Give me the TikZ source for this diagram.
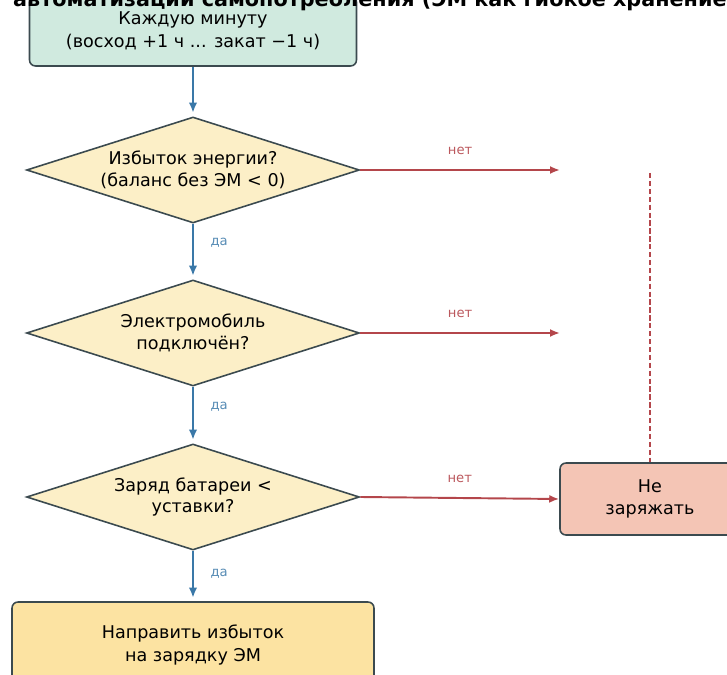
\documentclass[tikz,border=0pt]{standalone}
\usepackage{fontspec}
\setmainfont{DejaVu Sans}
\usetikzlibrary{shapes.geometric,arrows.meta}

\definecolor{startfill}{HTML}{D0EADF}
\definecolor{askfill}{HTML}{FCEFC7}
\definecolor{actfill}{HTML}{FCE3A2}
\definecolor{stopfill}{HTML}{F4C5B5}
\definecolor{edgegray}{HTML}{3B4A4F}
\definecolor{yesblue}{HTML}{3A78A8}
\definecolor{nored}{HTML}{B4464B}

\begin{document}
\begin{tikzpicture}[x=0.02cm, y=-0.02cm,
		box/.style={rectangle, rounded corners=3.4pt, draw=edgegray, line width=0.9pt,
			align=center, font=\fontsize{10}{13}\selectfont},
		ask/.style={diamond, draw=edgegray, fill=askfill, line width=0.9pt, aspect=3.14,
			minimum width=6.66cm, minimum height=2.12cm, inner sep=0pt,
			align=center, font=\fontsize{10}{12.5}\selectfont},
		yes/.style={-{Latex[length=0.2cm,width=0.17cm]}, draw=yesblue, line width=1.4pt, shorten >=2pt},
		no/.style={-{Latex[length=0.2cm,width=0.16cm]}, draw=nored, line width=1.1pt},
		yeslbl/.style={font=\fontsize{7.5}{9}\selectfont, text=yesblue!85},
		nolbl/.style={font=\fontsize{7.5}{9}\selectfont, text=nored!90}]
		\useasboundingbox (0,0) rectangle (727,675);

		% main column of the flow
		\node [box, fill=startfill, minimum width=6.54cm, minimum height=1.4cm] (tick) at (193,31)
			{Каждую минуту\\(восход +1 ч ... закат −1 ч)};
		\node [ask] (surplus) at (193,170) {Избыток энергии?\\(баланс без ЭМ < 0)};
		\node [ask] (plugged) at (193,333) {Электромобиль\\подключён?};
		\node [ask] (soc) at (193,497) {Заряд батареи <\\уставки?};
		\node [box, fill=actfill, minimum width=7.24cm, minimum height=1.72cm] (divert) at (193,645)
			{Направить избыток\\на зарядку ЭМ};

		% title, cut by the top edge, over the first box
		\node [anchor=base west, font=\bfseries\fontsize{11.8}{13}\selectfont] (title) at (7,7)
			{автоматизации самопотребления (ЭМ как гибкое хранение};

		% side branch
		\node [box, fill=stopfill, minimum width=3.6cm, minimum height=1.44cm] (idle) at (650,499)
			{Не\\заряжать};
		\coordinate (noA) at (560,170);
		\coordinate (noB) at (560,333);
		\coordinate (dashtop) at (650,173);

		% yes path
		\draw [yes] (tick.south) -- (surplus.north);
		\draw [yes] (surplus.south) -- node [yeslbl, pos=0.35, right=6pt] {да} (plugged.north);
		\draw [yes] (plugged.south) -- node [yeslbl, pos=0.35, right=6pt] {да} (soc.north);
		\draw [yes] (soc.south) -- node [yeslbl, pos=0.45, right=6pt] {да} (divert.north);

		% no path
		\draw [no] (surplus.east) -- node [nolbl, above=5pt] {нет} (noA);
		\draw [no] (plugged.east) -- node [nolbl, above=5pt] {нет} (noB);
		\draw [no] (soc.east) -- node [nolbl, above=5pt] {нет} (idle.west);
		\draw [nored, line width=0.9pt, dash pattern=on 3pt off 1.5pt] (dashtop) -- (idle.north);
	\end{tikzpicture}
\end{document}
